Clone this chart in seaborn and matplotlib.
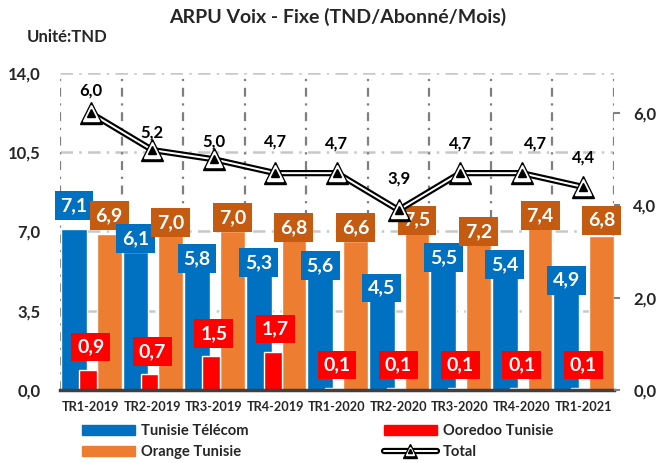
import numpy as np
import matplotlib
matplotlib.use('Agg')
import matplotlib.pyplot as plt
from matplotlib.patches import Patch
from matplotlib.lines import Line2D
import seaborn as sns

# données (ARPU voix fixe, TND/abonné/mois)
quarters = ['TR1-2019', 'TR2-2019', 'TR3-2019', 'TR4-2019', 'TR1-2020',
            'TR2-2020', 'TR3-2020', 'TR4-2020', 'TR1-2021']
tunisie_telecom = [7.1, 6.1, 5.8, 5.3, 5.6, 4.5, 5.5, 5.4, 4.9]
ooredoo = [0.9, 0.7, 1.5, 1.7, 0.1, 0.1, 0.1, 0.1, 0.1]
orange = [6.9, 7.0, 7.0, 6.8, 6.6, 7.5, 7.2, 7.4, 6.8]
total = [6.0, 5.2, 5.0, 4.7, 4.7, 3.9, 4.7, 4.7, 4.4]

# décalages des étiquettes (mise en page)
tt_dy = [1.05, 0.6, 0.0, 0.34, -0.1, 0.0, 0.36, 0.15, -0.05]
or_dy = [0.81, 0.4, 0.62, 0.38, 0.58, 0.0, -0.2, 0.3, 0.7]
tot_dy = [0.5, 0.37, 0.39, 0.69, 0.65, 0.69, 0.65, 0.65, 0.63]
tot_dx = [0, 0, 0, 0, 0, 0, 0, 0.23, 0]

BLUE = '#0070C0'
RED = '#FF0000'
ORANGE = '#ED7D31'
ORANGE_DARK = '#C55A11'

sns.set_theme(style='white')
plt.rcParams['font.family'] = ['Lato', 'DejaVu Sans']
plt.rcParams['font.weight'] = 'bold'

fig = plt.figure(figsize=(6.58, 4.63), dpi=100)
ax = fig.add_axes([60 / 658, 73 / 463, 554 / 658, 317 / 463])
x = np.arange(len(quarters))

# grille
for yv in [3.5, 7.0, 10.5, 14.0]:
    ax.axhline(yv, color='#C8C8C8', lw=1.8, ls=(0, (5, 2.5, 1, 2.5)), zorder=0.5)
for xv in np.arange(-0.5, len(quarters), 1.0):
    ax.axvline(xv, color='#7F7F7F', lw=1.6, ls=(0, (4, 3, 1, 3)), zorder=0.5)

# barres (bleu, rouge chevauchant, orange)
ax.bar(x - 0.273, tunisie_telecom, width=0.42, color=BLUE, zorder=2)
ax.bar(x - 0.046, ooredoo, width=0.29, color=RED, zorder=3)
ax.bar(x + 0.30, orange, width=0.40, color=ORANGE, zorder=2)

box_kw = dict(fontsize=14, fontweight='bold', color='white', ha='center', va='center', zorder=6)
for i in range(len(quarters)):
    ax.text(x[i] - 0.273, tunisie_telecom[i] + tt_dy[i], f'{tunisie_telecom[i]:.1f}'.replace('.', ','),
            bbox=dict(boxstyle='square,pad=0.3', fc=BLUE, ec='none'), **box_kw)
    ax.text(x[i] + 0.30, orange[i] + or_dy[i], f'{orange[i]:.1f}'.replace('.', ','),
            bbox=dict(boxstyle='square,pad=0.3', fc=ORANGE_DARK, ec='none'), **box_kw)
    ax.text(x[i] + 0.0, ooredoo[i] + 1.0, f'{ooredoo[i]:.1f}'.replace('.', ','),
            bbox=dict(boxstyle='square,pad=0.3', fc=RED, ec='none'), **box_kw)

ax.set_xlim(-0.5, len(quarters) - 0.5)
ax.set_ylim(0, 14)
ax.set_yticks([0, 3.5, 7.0, 10.5, 14.0])
ax.set_yticklabels([f'{v:.1f}'.replace('.', ',') for v in [0, 3.5, 7.0, 10.5, 14.0]],
                   fontsize=12, fontweight='bold')
ax.set_xticks(x)
ax.set_xticklabels(quarters, fontsize=9.2, fontweight='bold')
ax.set_xticks(np.arange(-0.5, len(quarters), 1.0), minor=True)
ax.tick_params(axis='x', which='major', length=0, pad=8)
ax.tick_params(axis='x', which='minor', length=4, width=2, color='#404040', direction='out')
ax.tick_params(axis='y', length=0, pad=14)
for s in ['top', 'left', 'right']:
    ax.spines[s].set_visible(False)
ax.spines['bottom'].set_color('#404040')
ax.spines['bottom'].set_linewidth(2.5)
ax.spines['bottom'].set_zorder(5)

# axe secondaire : total
ax2 = ax.twinx()
ax2.set_ylim(0, 6.87)
sns.lineplot(x=x, y=total, ax=ax2, color='black', lw=4.5, zorder=4)
sns.lineplot(x=x, y=total, ax=ax2, color='white', lw=1.4, zorder=4)
ax2.plot(x, total, ls='none', marker='^', ms=16, mfc='black', mec='black', zorder=5)
ax2.plot(x, total, ls='none', marker='^', ms=11, mfc='white', mec='white', zorder=5)
ax2.plot(x, total, ls='none', marker='^', ms=6, mfc='black', mec='black', zorder=5)
for i in range(len(quarters)):
    ax2.text(x[i] + tot_dx[i], total[i] + tot_dy[i], f'{total[i]:.1f}'.replace('.', ','),
             fontsize=12, fontweight='bold', color='black', ha='center', va='center', zorder=6)
ax2.set_yticks([0, 2, 4, 6])
ax2.set_yticklabels([f'{v:.1f}'.replace('.', ',') for v in [0, 2, 4, 6]],
                    fontsize=12, fontweight='bold')
ax2.tick_params(axis='y', length=4, width=1.5, color='#7F7F7F', pad=10, direction='out')
for s in ['top', 'left', 'bottom', 'right']:
    ax2.spines[s].set_visible(False)
ax2.grid(False)
ax2.set_ylabel('')

# titre
fig.text(338 / 658, 1 - 17 / 463, 'ARPU Voix - Fixe (TND/Abonné/Mois)',
         ha='center', va='center', fontsize=14, fontweight='bold')
fig.text(27 / 658, 1 - 37 / 463, 'Unité:TND', ha='left', va='center',
         fontsize=12, fontweight='bold')

# légende
total_handle = (Line2D([], [], color='black', lw=4.5),
                Line2D([], [], color='white', lw=1.4),
                Line2D([], [], ls='none', marker='^', ms=10, mfc='black', mec='black'),
                Line2D([], [], ls='none', marker='^', ms=6, mfc='white', mec='white'),
                Line2D([], [], ls='none', marker='^', ms=3, mfc='black', mec='black'))
handles = [Patch(color=BLUE), Patch(color=ORANGE), Patch(color=RED), total_handle]
labels = ['Tunisie Télécom', 'Orange Tunisie', 'Ooredoo Tunisie', 'Total']
fig.legend(handles, labels, ncol=2, loc='upper left', bbox_to_anchor=(82 / 658, 1 - 424 / 463),
           frameon=False, prop={'weight': 'bold', 'size': 10.6},
           handlelength=3.6, handletextpad=0.4, columnspacing=9.2, labelspacing=0.5,
           borderpad=0, borderaxespad=0)

fig.savefig('out.png', dpi=100)
